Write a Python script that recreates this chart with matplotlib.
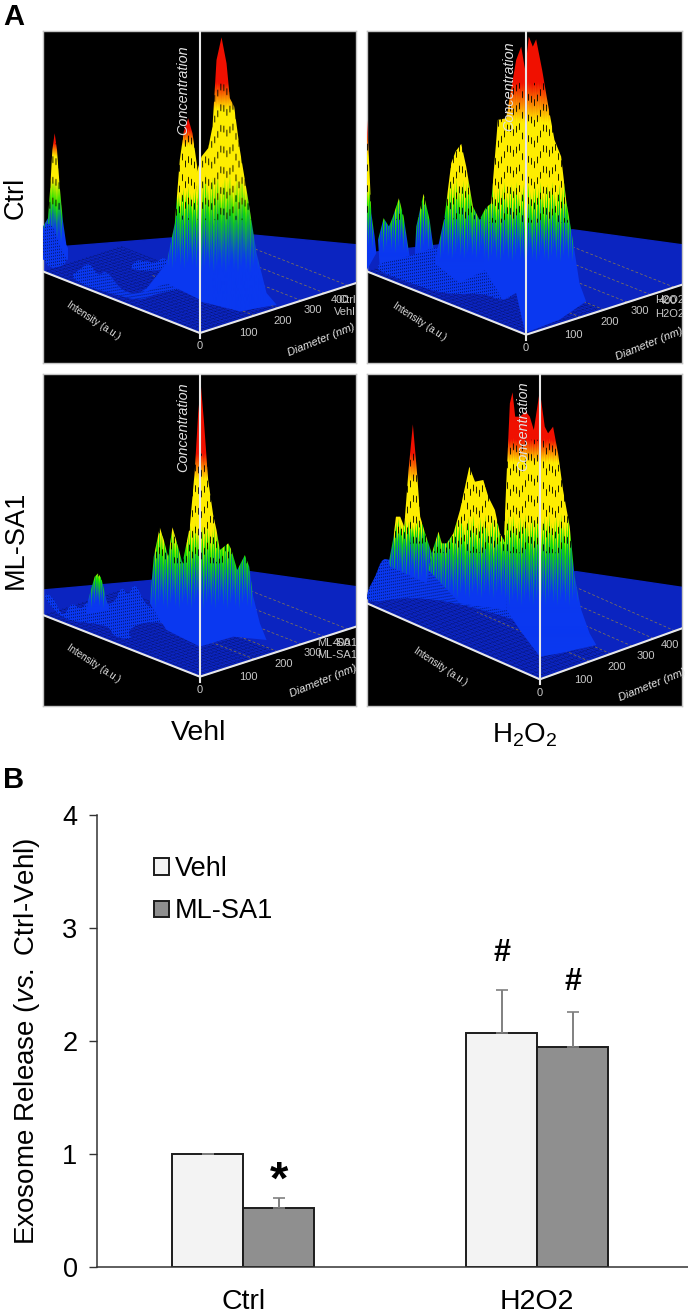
import numpy as np
import matplotlib
matplotlib.use("Agg")
import matplotlib.pyplot as plt
from matplotlib.colors import LinearSegmentedColormap
from matplotlib.collections import LineCollection
from matplotlib.patches import Polygon

plt.rcParams["font.family"] = ["Liberation Sans", "DejaVu Sans"]
plt.rcParams["mathtext.fontset"] = "custom"
plt.rcParams["mathtext.rm"] = "Liberation Sans"
plt.rcParams["mathtext.it"] = "Liberation Sans:italic"

# bar chart values
groups = ["Ctrl", "H2O2"]
vehl_vals = [1.0, 2.07]
vehl_err = [0.0, 0.38]
mlsa_vals = [0.52, 1.95]
mlsa_err = [0.09, 0.31]

# NTA surfaces, outlines. stops = red, yellow, yellow, green, blue heights
# Ctrl / Vehl
p1_floor = [(130, 745), (700, 700), (1068, 735), (1068, 850), (600, 1000), (130, 815)]
p1_ridges = [
    ([(130, 680), (145, 655), (152, 560), (158, 450), (165, 400), (172, 450), (180, 560), (190, 665),
      (200, 735), (205, 745), (205, 780), (130, 780)], (430, 470, 540, 620, 690)),
    ([(130, 670), (160, 675), (180, 740), (210, 795), (130, 810)], None),
    ([(210, 830), (240, 810), (268, 785), (295, 830), (320, 810), (355, 860), (385, 880), (420, 880),
      (460, 850), (490, 830), (530, 810), (600, 860), (470, 880), (420, 905), (330, 880), (260, 860)], None),
    ([(385, 810), (410, 780), (440, 785), (470, 790), (490, 770), (510, 790), (480, 815)], None),
    ([(500, 790), (525, 670), (540, 480), (552, 395), (565, 355), (578, 400), (592, 500), (600, 900),
      (500, 850), (430, 880)], (390, 440, 590, 640, 770)),
    ([(590, 520), (605, 470), (625, 445), (638, 380), (650, 180), (665, 112), (680, 190), (690, 295),
      (703, 320), (720, 450), (745, 600), (770, 760), (800, 880), (830, 915), (720, 935), (600, 905)],
     (250, 330, 570, 640, 780)),
]
# H2O2 / Vehl
p2_floor = [(22, 760), (640, 690), (968, 735), (968, 855), (500, 1005), (22, 815)]
p2_ridges = [
    ([(22, 360), (28, 480), (35, 640), (45, 710), (50, 760), (22, 810)], (400, 470, 560, 620, 710)),
    ([(55, 720), (72, 655), (88, 680), (100, 650), (118, 595), (132, 650), (150, 770), (60, 800)],
     (300, 400, 560, 640, 720)),
    ([(170, 680), (192, 582), (210, 660), (225, 770), (165, 770)], (300, 400, 560, 630, 720)),
    ([(22, 800), (150, 770), (230, 740), (370, 740), (470, 800), (470, 880), (430, 905), (370, 880),
      (260, 885), (150, 850)], None),
    ([(225, 790), (255, 650), (275, 490), (288, 455), (305, 432), (320, 500), (340, 620), (360, 660),
      (378, 625), (395, 610), (400, 800), (300, 850)], (300, 400, 570, 640, 740)),
    ([(370, 800), (395, 610), (415, 360), (440, 355), (470, 180), (485, 140), (497, 210), (508, 110),
      (520, 140), (530, 118), (548, 210), (565, 310), (585, 420), (605, 470), (620, 600), (640, 720),
      (660, 850), (680, 905), (600, 960), (497, 1000), (470, 880), (430, 900)], (250, 370, 590, 650, 750)),
]
# Ctrl / ML-SA1
p3_floor = [(130, 660), (750, 605), (1068, 650), (1068, 770), (600, 920), (130, 735)]
p3_ridges = [
    ([(130, 680), (145, 670), (165, 690), (190, 745), (215, 695), (245, 720), (265, 690), (340, 710),
      (365, 645), (385, 680), (405, 635), (435, 700), (450, 710), (500, 730), (600, 760), (600, 780),
      (450, 750), (380, 780), (400, 810), (340, 800), (330, 770), (280, 760), (190, 750)], None),
    ([(265, 690), (285, 620), (295, 610), (305, 625), (320, 690), (330, 720), (260, 730)],
     (500, 560, 600, 630, 690)),
    ([(450, 700), (462, 560), (480, 472), (492, 510), (505, 560), (518, 472), (532, 520), (548, 580),
      (570, 470), (585, 300), (595, 130), (603, 45), (612, 150), (625, 330), (640, 435), (650, 480),
      (660, 540), (685, 520), (695, 540), (712, 600), (735, 555), (748, 590), (760, 680), (780, 760),
      (800, 810), (700, 800), (600, 830), (500, 780)], (250, 330, 490, 560, 680)),
]
# H2O2 / ML-SA1
p4_floor = [(20, 665), (650, 605), (968, 652), (968, 775), (540, 928), (20, 700)]
p4_ridges = [
    ([(20, 665), (45, 620), (65, 565), (90, 570), (200, 590), (440, 600), (520, 720), (540, 790),
      (500, 760), (300, 700), (150, 680), (20, 700)], None),
    ([(85, 580), (100, 500), (107, 440), (120, 440), (132, 470), (145, 300), (158, 163), (170, 300),
      (180, 440), (195, 490), (215, 550), (200, 640), (90, 590)], (250, 340, 470, 500, 600)),
    ([(205, 600), (215, 550), (235, 485), (245, 520), (260, 520), (280, 490), (300, 420), (328, 290),
      (345, 335), (370, 330), (385, 380), (405, 420), (420, 490), (432, 510), (440, 560), (440, 720),
      (300, 700)], (100, 250, 480, 530, 650)),
    ([(432, 510), (440, 320), (450, 100), (458, 67), (466, 140), (480, 140), (498, 125), (510, 140),
      (522, 180), (540, 62), (555, 170), (565, 190), (580, 170), (595, 250), (610, 360), (630, 470),
      (645, 620), (665, 720), (690, 790), (710, 825), (600, 850), (540, 860), (480, 780), (440, 720)],
     (210, 280, 470, 530, 670)),
]

nta_cmap = LinearSegmentedColormap.from_list(
    "nta", [(0, "#0a38f0"), (0.33, "#12e000"), (0.66, "#ffee00"), (1, "#f01000")])
streak = np.array([0, -30, 25, -12, 48, -38, 8, 34, -22, 60, -6, 18])


def round_corners(pts):
    # corner cutting so the low blue lumps do not look jagged
    pts = np.array(pts, dtype=float)
    for _ in range(2):
        nxt = np.roll(pts, -1, axis=0)
        pts = np.column_stack([0.75 * pts + 0.25 * nxt, 0.25 * pts + 0.75 * nxt]).reshape(-1, 2)
    return pts


def draw_ridge(ax, pts, stops):
    pts = round_corners(pts) if stops is None else np.array(pts, dtype=float)
    x0, y0 = pts.min(axis=0)
    x1, y1 = pts.max(axis=0)
    cols = np.arange(x0, x1 + 3, 3)
    rows = np.arange(y0, y1 + 1, 1)
    xx, yy = np.meshgrid(np.arange(len(cols)), rows)
    if stops is None:
        t = np.zeros(xx.shape)
        dark = (xx % 2 == 0) & ((yy.astype(int) + xx * 5) % 9 < 2)
    else:
        r, y_a, y_b, g, b = stops
        shift = streak[xx % len(streak)] * np.clip((yy - y_a) / 240, 0.1, 1.0)
        t = np.interp(yy + shift, [r, y_a, y_b, g, b], [1, 0.66, 0.66, 0.33, 0])
        # broken dark wire segments, offset column by column
        offset = (streak[(xx // 3) % len(streak)] * 3).astype(int)
        dark = (xx % 3 == 0) & ((yy.astype(int) + offset) % 62 < 20) & (yy > r) & (yy < g + 20)
    rgb = nta_cmap(t)[:, :, :3]
    rgb[dark] *= 0.15
    im = ax.imshow(rgb, extent=(x0, x1 + 3, y1 + 1, y0), aspect="auto",
                   interpolation="bilinear", zorder=3)
    im.set_clip_path(Polygon(pts, closed=True, transform=ax.transData))


def draw_panel(rect, xlim, ylim, floor, ridges, names, ticks):
    # rect in figure pixels: left, top, right, bottom
    ax = fig.add_axes([rect[0] / W, 1 - rect[3] / H, (rect[2] - rect[0]) / W, (rect[3] - rect[1]) / H])
    ax.set_facecolor("black")
    ax.set_xticks([])
    ax.set_yticks([])
    for s in ax.spines.values():
        s.set_color("#c4c4c4")
        s.set_linewidth(1)
    ax.fill(*zip(*floor), color="#0b24c0", zorder=1)

    right_pt = np.array(floor[3], dtype=float)
    origin = np.array(floor[4], dtype=float)
    left_pt = np.array(floor[5], dtype=float)
    u = left_pt - origin
    v = right_pt - origin

    # wire mesh on the front of the floor
    segs = []
    for a in np.arange(0, 1.001, 0.03):
        segs.append([origin + a * u, origin + a * u + 0.5 * v])
    for b in np.arange(0, 0.501, 0.025):
        segs.append([origin + b * v, origin + b * v + u])
    ax.add_collection(LineCollection(segs, colors="black", linewidths=0.35, alpha=0.6,
                                     linestyles=(0, (1.5, 1.5)), zorder=2))
    # faint lines further back
    back = []
    for b in [0.35, 0.5, 0.65, 0.8, 0.95]:
        start = origin + b * v
        back.append([start, start + 0.65 * u])
    ax.add_collection(LineCollection(back, colors="#8a7a50", linewidths=0.5, linestyles=(0, (4, 3)), zorder=2))

    for pts, stops in ridges:
        draw_ridge(ax, pts, stops)

    # axes of the 3D view
    ox, oy = origin
    ax.plot([ox, ox], [ylim[1], oy + 15], color="#e8e8e8", lw=1.5, zorder=5)
    ax.plot([left_pt[0], ox, right_pt[0]], [left_pt[1], oy, right_pt[1]], color="#e8e8e8", lw=1.5, zorder=5)

    grey = "#c8c8c8"
    ax.text(ox, oy + 40, "0", color=grey, fontsize=8, ha="center", va="center", zorder=6)
    for lab, tx, ty in ticks:
        ax.text(tx, ty, lab, color=grey, fontsize=8, ha="center", va="center", zorder=6)
    ax.text(ox - 50, names["conc_y"], "Concentration", color="#e0e0e0", fontsize=10.4,
            style="italic", rotation=90, ha="center", va="center", zorder=6)
    ax.text(ox - 320 + names.get("int_dx", 0), oy - 38, "Intensity (a.u.)", color="#e0e0e0", fontsize=7,
            rotation=-33, ha="center", va="center", rotation_mode="anchor", zorder=6)
    ax.text(names["dia_x"], oy + names["dia_dy"], "Diameter (nm)", color="#e8e8e8", fontsize=8, style="italic",
            rotation=22, ha="center", va="center", rotation_mode="anchor", zorder=6)
    for lab, tx, ty in names["extra"]:
        ax.text(tx, ty, lab, color=grey, fontsize=8, ha="center", va="center", clip_on=True, zorder=6)
    ax.set_xlim(*xlim)
    ax.set_ylim(*ylim)
    return ax


W, H = 688, 1313
fig = plt.figure(figsize=(W / 100, H / 100), dpi=100, facecolor="white")

draw_panel((43, 31, 356, 363), (130, 1068), (1090, 93), p1_floor, p1_ridges,
           {"conc_y": 272, "dia_x": 965, "dia_dy": 20,
            "extra": [("Ctrl", 1040, 900), ("Vehl", 1035, 938)]},
           [("100", 745, 1000), ("200", 848, 965), ("300", 940, 932), ("400", 1020, 900)])
draw_panel((367, 31, 682, 363), (22, 968), (1090, 93), p2_floor, p2_ridges,
           {"conc_y": 260, "dia_x": 870, "dia_dy": 28,
            "extra": [("H2O2", 930, 900), ("H2O2", 930, 942)]},
           [("100", 642, 1005), ("200", 750, 968), ("300", 842, 935), ("400", 925, 903)])
draw_panel((43, 374, 356, 706), (130, 1068), (1008, 12), p3_floor, p3_ridges,
           {"conc_y": 172, "dia_x": 970, "dia_dy": 13,
            "extra": [("ML-SA1", 1010, 818), ("ML-SA1", 1010, 855)]},
           [("100", 745, 920), ("200", 850, 882), ("300", 940, 850), ("400", 1025, 818)])
draw_panel((367, 374, 682, 706), (20, 968), (1008, 12), p4_floor, p4_ridges,
           {"conc_y": 168, "dia_x": 880, "dia_dy": 16, "int_dx": 20, "extra": []},
           [("100", 670, 930), ("200", 770, 892), ("300", 858, 858), ("400", 932, 825)])


# panel letters and row / column labels, placed in figure pixels
def label(px, py, s, **kw):
    fig.text(px / W, 1 - py / H, s, ha="center", va="center", **kw)


label(14, 17, "A", fontsize=21, fontweight="bold")
label(14, 780, "B", fontsize=21, fontweight="bold")
label(16, 198, "Ctrl", fontsize=19.5, rotation=90)
label(16, 540, "ML-SA1", fontsize=19.5, rotation=90)
label(199, 733, "Vehl", fontsize=20.5)
label(525, 735, r"$\mathregular{H_2O_2}$", fontsize=20)

# panel B
ax = fig.add_axes([97 / W, 1 - 1267 / H, 591 / W, 452 / H])
pos = np.arange(len(groups))
width = 0.2415
err_style = {"ecolor": "#808080", "elinewidth": 1.4, "capsize": 4, "capthick": 1.2}
bars1 = ax.bar(pos - width / 2, vehl_vals, width, color="#f3f3f3", edgecolor="#1c1c1c", linewidth=1.4,
               yerr=[[0, 0], vehl_err], error_kw=err_style, label="Vehl", zorder=2)
bars2 = ax.bar(pos + width / 2, mlsa_vals, width, color="#8f8f8f", edgecolor="#1c1c1c", linewidth=1.4,
               yerr=[[0, 0], mlsa_err], error_kw=err_style, label="ML-SA1", zorder=2)
ax.set_xlim(-0.497, 1.513)
ax.set_ylim(0, 4)
ax.set_yticks(range(5))
ax.set_xticks(pos)
ax.set_xticklabels(groups)
ax.tick_params(axis="x", length=0, labelsize=20.5, pad=16)
ax.tick_params(axis="y", length=6, width=1, labelsize=19.5, pad=8, color="#333333")
for s in ["top", "right"]:
    ax.spines[s].set_visible(False)
for s in ["left", "bottom"]:
    ax.spines[s].set_color("#333333")
    ax.spines[s].set_linewidth(1.1)
ax.set_ylabel(r"Exosome Release ($\mathit{vs.}$ Ctrl-Vehl)", fontsize=20)
ax.yaxis.set_label_coords(-0.093, 0.5)
ax.legend(handles=[bars1, bars2], loc="upper left", bbox_to_anchor=(0.0965, 0.909), frameon=False,
          fontsize=19.5, handlelength=0.55, handleheight=0.55, handletextpad=0.22, labelspacing=0.6,
          borderpad=0, borderaxespad=0)

# significance marks
ax.text(pos[1] - width / 2, vehl_vals[1] + vehl_err[1] + 0.2, "#", fontsize=22, fontweight="bold", ha="center", va="bottom")
ax.text(pos[0] + width / 2, mlsa_vals[0] + mlsa_err[0] - 0.05, "*", fontsize=34, fontweight="bold", ha="center", va="bottom")
ax.text(pos[1] + width / 2, mlsa_vals[1] + mlsa_err[1] + 0.13, "#", fontsize=22, fontweight="bold", ha="center", va="bottom")

fig.savefig("out.png", dpi=100)
